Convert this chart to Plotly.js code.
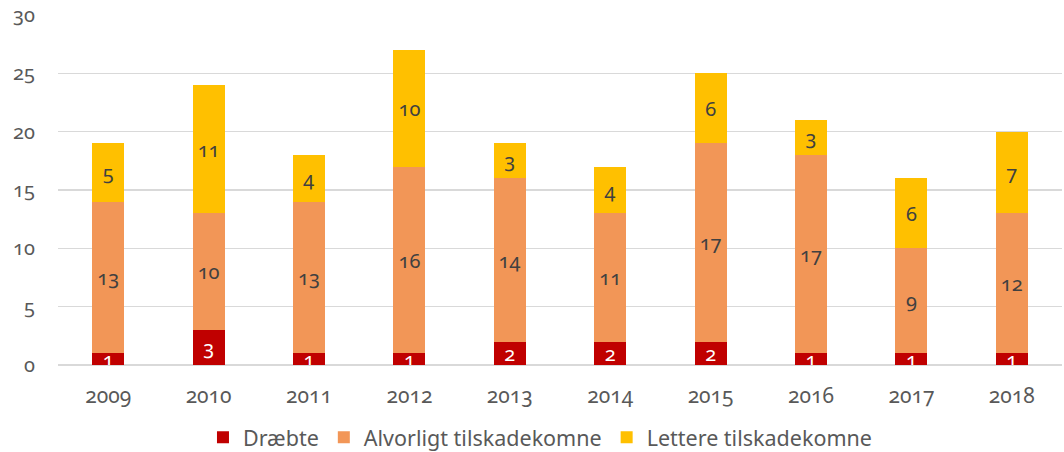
<!DOCTYPE html>
<html><head><meta charset="utf-8">
<script src="https://cdn.plot.ly/plotly-3.0.1.min.js"></script>
<style>html,body{margin:0;padding:0;background:#fff}#c{width:1064px;height:452px}
.main-svg text{font-variant-numeric:oldstyle-nums;font-feature-settings:"onum" 1;}</style>
</head><body><div id="c"></div>
<script>
const years = ['2009','2010','2011','2012','2013','2014','2015','2016','2017','2018'];
const draebte = [1,3,1,1,2,2,2,1,1,1];
const alvorligt = [13,10,13,16,14,11,17,17,9,12];
const lettere = [5,11,4,10,3,4,6,3,6,7];
const names = ['Dræbte','Alvorligt tilskadekomne','Lettere tilskadekomne'];
const colors = ['#C00000','#F29657','#FFC000'];
const textColors = ['#ffffff','#404040','#404040'];
const FONT = '"Noto Sans", "Open Sans", sans-serif';
const series = [draebte, alvorligt, lettere];
const traces = series.map((vals,i)=>({
  type:'bar', x:years, y:vals, name:names[i],
  marker:{color:colors[i], line:{width:0}},
  text:vals.map(String), textposition:'inside', insidetextanchor:'middle',
  constraintext:'none', textangle:0,
  textfont:{family:FONT, size:20, color:textColors[i]},
  hoverinfo:'skip'
}));
const layout = {
  barmode:'stack', bargap:0.68,
  width:1064, height:452,
  margin:{l:58, r:2, t:15, b:87, autoexpand:false},
  paper_bgcolor:'#fff', plot_bgcolor:'#fff',
  font:{family:FONT, color:'#595959', size:19},
  xaxis:{type:'category', tickfont:{size:21, color:'#595959'}, ticks:'', showline:false, showgrid:false, ticklabelstandoff:16, automargin:false},
  yaxis:{range:[0,30], dtick:5, gridcolor:'#d9d9d9', gridwidth:1.5, zeroline:true, zerolinecolor:'#d9d9d9', zerolinewidth:1.5,
         tickfont:{size:20, color:'#595959'}, ticklabelstandoff:22, showline:false, automargin:false},
  legend:{orientation:'h', xref:'container', x:0.5075, xanchor:'center', yref:'container', y:0.078, yanchor:'top',
          font:{size:21.5, color:'#595959'}, itemwidth:30, traceorder:'normal'},
  showlegend:true
};
Plotly.newPlot('c', traces, layout, {displayModeBar:false, staticPlot:true});
</script></body></html>
